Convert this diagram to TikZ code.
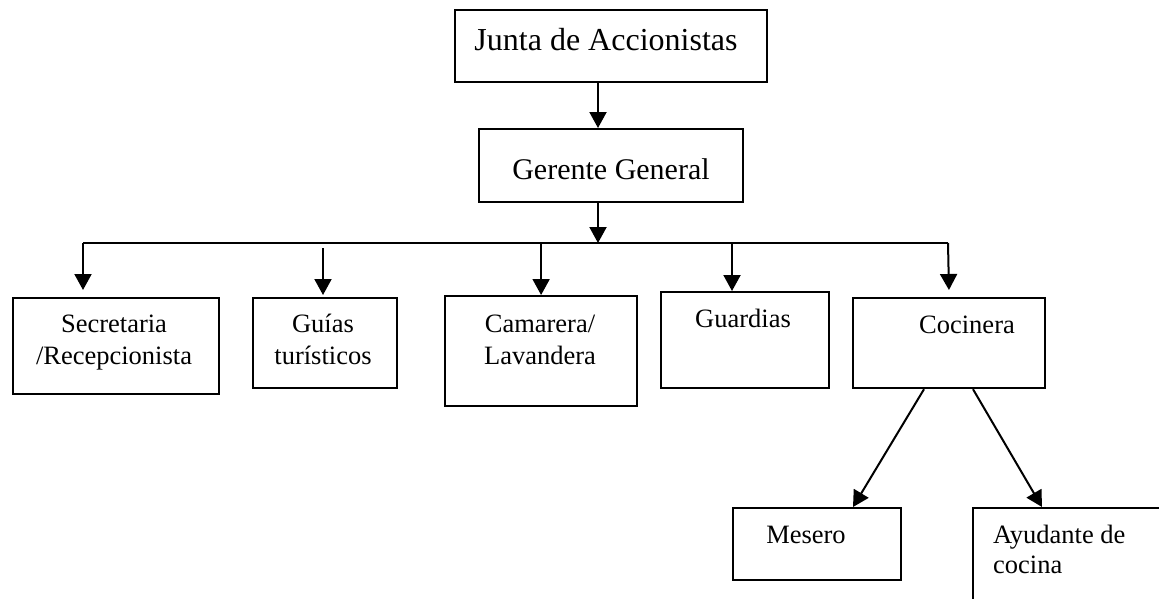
\documentclass[tikz,border=0pt]{standalone}
\usepackage{fontspec}
\setmainfont{Liberation Serif}
\usetikzlibrary{arrows.meta,calc}
\tikzset{
  box/.style={draw, line width=2.2pt, anchor=north west, inner sep=0pt},
  lbl/.style={anchor=base, inner sep=0pt, font=\fontsize{26.5}{31}\selectfont},
  lbll/.style={anchor=base west, inner sep=0pt, font=\fontsize{26.5}{31}\selectfont},
  conn/.style={line width=2pt, -{Triangle[length=16pt,width=17pt]}},
  barline/.style={line width=2pt},
}
\begin{document}
\begin{tikzpicture}[x=1pt,y=-1pt]
\fill[white] (0,0) rectangle (1159,598);
\useasboundingbox (0,0) rectangle (1159,598);
\clip (0,0) rectangle (1159,598);

% boxes
\node[box, minimum width=312pt, minimum height=72pt] (junta) at (454,9) {};
\node[box, minimum width=264pt, minimum height=73pt] (gerente) at (478,128) {};
\node[box, minimum width=206pt, minimum height=96pt] (sec) at (12,297) {};
\node[box, minimum width=144pt, minimum height=90pt] (guias) at (252,297) {};
\node[box, minimum width=192pt, minimum height=110pt] (cam) at (444,295) {};
\node[box, minimum width=168pt, minimum height=96pt] (guard) at (660,291) {};
\node[box, minimum width=192pt, minimum height=90pt] (coc) at (852,297) {};
\node[box, minimum width=168pt, minimum height=72pt] (mes) at (732,507) {};
\node[box, minimum width=260pt, minimum height=150pt] (ayu) at (972,507) {};

% texts
\node[lbl, font=\fontsize{32}{38}\selectfont] (tjunta) at (606,50) {Junta de Accionistas};
\node[lbl, font=\fontsize{30}{36}\selectfont] (tger) at (611,179) {Gerente General};
\node[lbl] (tsec1) at (114,332) {Secretaria};
\node[lbl] (tsec2) at (114,364) {/Recepcionista};
\node[lbl] (tgu1) at (323,332) {Guías};
\node[lbl] (tgu2) at (323,364) {turísticos};
\node[lbl] (tcam1) at (540,332) {Camarera/};
\node[lbl] (tcam2) at (540,364) {Lavandera};
\node[lbl] (tgd) at (743,327) {Guardias};
\node[lbl] (tcoc) at (967,333) {Cocinera};
\node[lbl] (tmes) at (806,543) {Mesero};
\node[lbll] (tayu1) at (993,543) {Ayudante de};
\node[lbll] (tayu2) at (993,573) {cocina};

% connectors
\coordinate (trunk) at (598,243);
\coordinate (barL) at (83,243);
\coordinate (barR) at (948,243);
\coordinate (gstart) at (323,248);
\coordinate (gdx) at (732,243);
\draw[conn] (junta.south -| trunk) -- (gerente.north -| trunk);
\draw[conn] (gerente.south -| trunk) -- (trunk);
\draw[barline] (barL) -- (barR);
\draw[conn, shorten >=7pt] (barL) -- (sec.north -| barL);
\draw[conn, shorten >=2pt] (gstart) -- (guias.north -| gstart);
\draw[conn] (cam.north |- barL) -- (cam.north);
\draw[conn] (gdx) -- (guard.north -| gdx);
\draw[conn, shorten >=7pt] (barR) -- (coc.north);
\draw[conn] ($(coc.south west)+(72,0)$) -- ($(mes.north west)+(121,0)$);
\draw[conn] ($(coc.south west)+(121,0)$) -- ($(ayu.north west)+(70,0)$);
\end{tikzpicture}
\end{document}
